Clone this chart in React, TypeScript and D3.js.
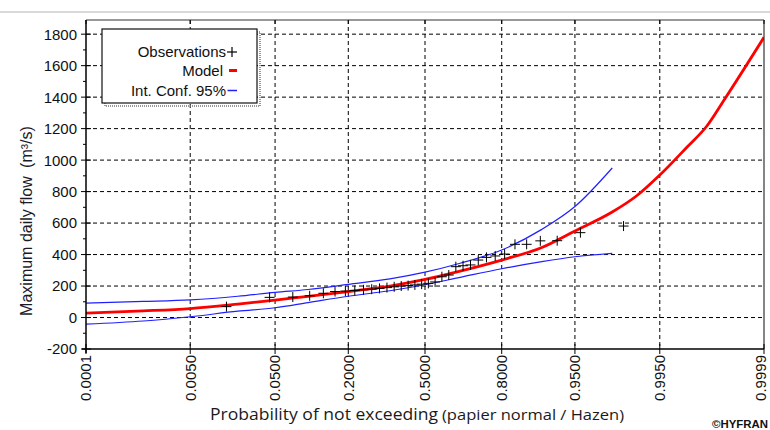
import React from "react";
import * as d3 from "d3";

// ---------- data ----------
const probTicks = [0.0001, 0.005, 0.05, 0.2, 0.5, 0.8, 0.95, 0.995, 0.9999];
const probTickLabels = ["0.0001", "0.0050", "0.0500", "0.2000", "0.5000", "0.8000", "0.9500", "0.9950", "0.9999"];
const flowTicks = [-200, 0, 200, 400, 600, 800, 1000, 1200, 1400, 1600, 1800];

const modelProb = [0.0001, 0.001, 0.005, 0.02, 0.05, 0.1, 0.2, 0.35, 0.5, 0.65, 0.8, 0.9, 0.95, 0.98, 0.99, 0.995, 0.998, 0.999, 0.9995, 0.9999];
const modelFlow = [28, 42, 57, 85, 110, 135, 165, 200, 242, 295, 365, 445, 550, 670, 775, 905, 1085, 1215, 1390, 1780];

const ciProb = [0.0001, 0.001, 0.005, 0.02, 0.05, 0.1, 0.2, 0.35, 0.5, 0.65, 0.8, 0.9, 0.95, 0.98];
const ciUpper = [92, 102, 112, 135, 160, 178, 210, 245, 288, 345, 429, 560, 705, 950];
const ciLower = [-42, -22, 5, 40, 62, 95, 135, 170, 208, 255, 310, 355, 386, 408];

const obsProb = [0.0147, 0.0441, 0.0735, 0.1029, 0.1324, 0.1618, 0.1912, 0.2206, 0.25, 0.2794, 0.3088, 0.3382, 0.3676, 0.3971, 0.4265, 0.4559, 0.4853, 0.5147, 0.5441, 0.5735, 0.6029, 0.6324, 0.6618, 0.6912, 0.7206, 0.75, 0.7794, 0.8088, 0.8382, 0.8676, 0.8971, 0.9265, 0.9559, 0.9853];
const obsFlow = [69, 128, 130, 138, 154, 165, 168, 172, 176, 180, 185, 190, 195, 200, 203, 207, 212, 217, 226, 259, 270, 323, 329, 334, 365, 382, 391, 403, 465, 465, 487, 488, 539, 581];

// inverse normal CDF (Acklam)
function normInv(p: number): number {
  const a = [-39.69683028665376, 220.9460984245205, -275.9285104469687, 138.357751867269, -30.66479806614716, 2.506628277459239];
  const b = [-54.47609879822406, 161.5858368580409, -155.6989798598866, 66.80131188771972, -13.28068155288572];
  const c = [-0.007784894002430293, -0.3223964580411365, -2.400758277161838, -2.549732539343734, 4.374664141464968, 2.938163982698783];
  const d = [0.007784695709041462, 0.3224671290700398, 2.445134137142996, 3.754408661907416];
  const pl = 0.02425;
  if (p < pl) {
    const q = Math.sqrt(-2 * Math.log(p));
    return (((((c[0] * q + c[1]) * q + c[2]) * q + c[3]) * q + c[4]) * q + c[5]) / ((((d[0] * q + d[1]) * q + d[2]) * q + d[3]) * q + 1);
  } else if (p <= 1 - pl) {
    const q = p - 0.5;
    const r = q * q;
    return ((((((a[0] * r + a[1]) * r + a[2]) * r + a[3]) * r + a[4]) * r + a[5]) * q) / (((((b[0] * r + b[1]) * r + b[2]) * r + b[3]) * r + b[4]) * r + 1);
  } else {
    const q = Math.sqrt(-2 * Math.log(1 - p));
    return -(((((c[0] * q + c[1]) * q + c[2]) * q + c[3]) * q + c[4]) * q + c[5]) / ((((d[0] * q + d[1]) * q + d[2]) * q + d[3]) * q + 1);
  }
}

const FONT = "'Liberation Sans', Arial, sans-serif";

export default function App() {
  const left = 86, right = 764, top = 20, bottom = 349;
  const xz = d3.scaleLinear().domain([normInv(0.0001), normInv(0.9999)]).range([left, right]);
  const xp = (p: number) => xz(normInv(p));
  const y = d3.scaleLinear().domain([-200, 1890]).range([bottom, top]);

  const line = d3.line<[number, number]>().x((d) => xp(d[0])).y((d) => y(d[1])).curve(d3.curveMonotoneX);
  const modelPath = line(modelProb.map((p, i) => [p, modelFlow[i]]) as [number, number][]) || "";
  const upPath = line(ciProb.map((p, i) => [p, ciUpper[i]]) as [number, number][]) || "";
  const loPath = line(ciProb.map((p, i) => [p, ciLower[i]]) as [number, number][]) || "";

  const minor = d3.range(-100, 1890, 200);

  return (
    <svg width={770} height={430} style={{ position: "absolute", left: 0, top: 0, background: "#fff" }}>
      <defs>
        <clipPath id="clip">
          <rect x={left} y={top} width={right - left} height={bottom - top} />
        </clipPath>
      </defs>
      <rect x={0} y={0} width={770} height={430} fill="#fff" />
      <line x1={0} x2={770} y1={12} y2={12} stroke="#d9d9d9" strokeWidth={2} />
      {/* grid */}
      <g clipPath="url(#clip)">
        {flowTicks.filter((t) => t > -200).map((t) => (
          <line key={"gy" + t} x1={left} x2={right} y1={y(t)} y2={y(t)} stroke="#000" strokeWidth={1} strokeDasharray="4,3" />
        ))}
        {probTicks.slice(1, -1).map((p) => (
          <line key={"gx" + p} x1={xp(p)} x2={xp(p)} y1={top} y2={bottom} stroke="#000" strokeWidth={1} strokeDasharray="4,3" />
        ))}
      </g>
      {/* curves */}
      <g clipPath="url(#clip)">
        <path d={upPath} fill="none" stroke="#2020ff" strokeWidth={1.2} />
        <path d={loPath} fill="none" stroke="#2020ff" strokeWidth={1.2} />
        <path d={modelPath} fill="none" stroke="#ff0000" strokeWidth={2.8} />
        {obsProb.map((p, i) => {
          const cx = xp(p), cy = y(obsFlow[i]);
          return (
            <g key={"o" + i} stroke="#000" strokeWidth={1}>
              <line x1={cx - 5} x2={cx + 5} y1={cy} y2={cy} />
              <line x1={cx} x2={cx} y1={cy - 5} y2={cy + 5} />
            </g>
          );
        })}
      </g>
      {/* frame */}
      <line x1={left} x2={right} y1={top} y2={top} stroke="#333" strokeWidth={1.2} />
      <line x1={right} x2={right} y1={top} y2={bottom} stroke="#333" strokeWidth={1.2} />
      <line x1={left} x2={left} y1={top} y2={bottom + 4} stroke="#000" strokeWidth={1.5} />
      <line x1={left - 4} x2={right} y1={bottom} y2={bottom} stroke="#000" strokeWidth={1.5} />
      {/* y ticks */}
      {flowTicks.map((t) => (
        <g key={"yt" + t}>
          <line x1={left - 5} x2={left + 5} y1={y(t)} y2={y(t)} stroke="#000" strokeWidth={1} />
          <text x={left - 9} y={y(t)} dy="0.36em" textAnchor="end" fontFamily={FONT} fontSize={15} fill="#111">
            {t}
          </text>
        </g>
      ))}
      {minor.map((t) => (
        <line key={"ym" + t} x1={left - 3} x2={left} y1={y(t)} y2={y(t)} stroke="#000" strokeWidth={1} />
      ))}
      {/* x ticks */}
      {probTicks.map((p, i) => (
        <g key={"xt" + p}>
          <line x1={xp(p)} x2={xp(p)} y1={bottom - 5} y2={bottom + 5} stroke="#000" strokeWidth={1} />
          <line x1={xp(p)} x2={xp(p)} y1={top} y2={top + 4} stroke="#000" strokeWidth={1} />
          <text
            transform={`translate(${Math.min(xp(p), 761)},${bottom + 6}) rotate(-90)`}
            dy="0.36em"
            textAnchor="end"
            fontFamily={FONT}
            fontSize={15}
            fill="#111"
          >
            {probTickLabels[i]}
          </text>
        </g>
      ))}
      {/* axis titles */}
      <text transform={`translate(32,221) rotate(-90)`} textAnchor="middle" fontFamily={FONT} fontSize={16} fill="#1a1a2a">
        <tspan>Maximum daily flow </tspan>
        <tspan dx={4}>(m³/s)</tspan>
      </text>
      <text x={210} y={420} fontFamily="'Open Sans', 'Noto Sans', sans-serif" fontSize={15.5} fill="#1a1a1a">
        <tspan textLength={228} lengthAdjust="spacingAndGlyphs">Probability of not exceeding</tspan>
        <tspan dx={4} textLength={182} lengthAdjust="spacingAndGlyphs" fontSize={15}>(papier normal / Hazen)</tspan>
      </text>
      <text x={712} y={428} fontFamily={FONT} fontSize={11} fontWeight="bold" fill="#111" textLength={56} lengthAdjust="spacingAndGlyphs">
        ©HYFRAN
      </text>
      {/* legend */}
      <rect x={105} y={32} width={155} height={74} fill="none" stroke="#777" strokeWidth={1.5} strokeDasharray="1,1" />
      <rect x={102} y={29} width={155} height={74} fill="#fff" stroke="#111" strokeWidth={1.2} />
      <text x={226} y={57} textAnchor="end" fontFamily={FONT} fontSize={15} fill="#111">Observations</text>
      <line x1={227} x2={237} y1={52} y2={52} stroke="#000" strokeWidth={1.2} />
      <line x1={232} x2={232} y1={47} y2={57} stroke="#000" strokeWidth={1.2} />
      <text x={223} y={76} textAnchor="end" fontFamily={FONT} fontSize={15} fill="#111">Model</text>
      <line x1={229} x2={237} y1={70.5} y2={70.5} stroke="#ff0000" strokeWidth={3} />
      <text x={226} y={96} textAnchor="end" fontFamily={FONT} fontSize={15} fill="#111">Int. Conf. 95%</text>
      <line x1={227.5} x2={237} y1={90.5} y2={90.5} stroke="#2020ff" strokeWidth={1.5} />
    </svg>
  );
}
